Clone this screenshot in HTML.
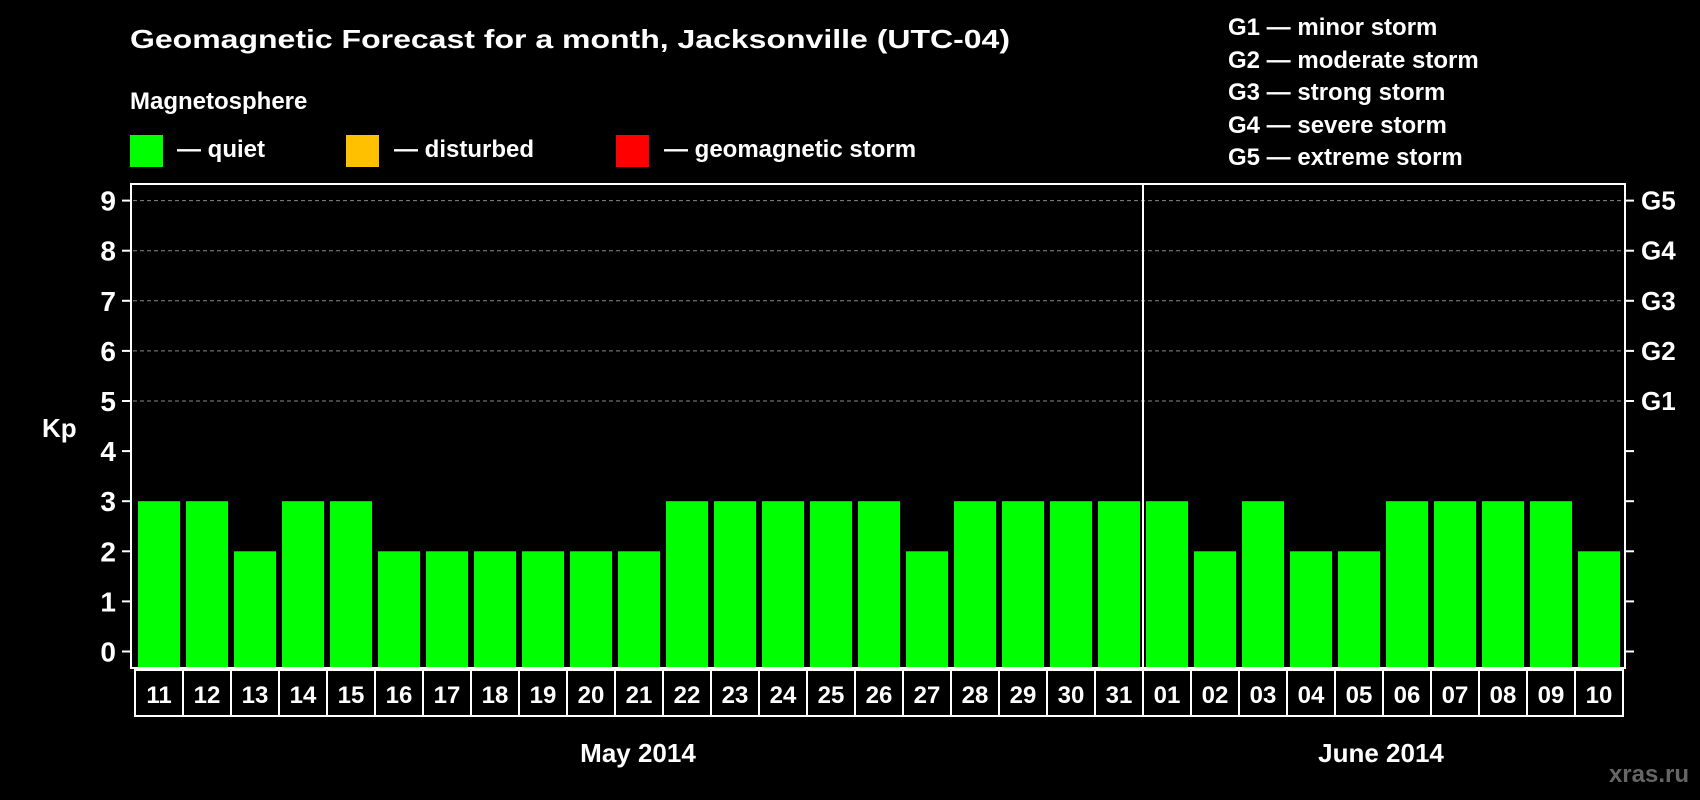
<!DOCTYPE html>
<html><head><meta charset="utf-8"><style>
html,body{margin:0;padding:0;background:#000;}
svg{display:block;font-family:"Liberation Sans",Arial,sans-serif;font-weight:bold;}
</style></head><body>
<svg id="chart" width="1700" height="800" viewBox="0 0 1700 800">
<rect x="0" y="0" width="1700" height="800" fill="#000"/>
<text x="130" y="48" fill="#fff" font-size="26" textLength="880" lengthAdjust="spacingAndGlyphs">Geomagnetic Forecast for a month, Jacksonville (UTC-04)</text>
<text x="130" y="109" fill="#fff" font-size="24">Magnetosphere</text>
<g>
<rect x="130" y="135" width="33" height="32" fill="#00ff00"/>
<text x="177" y="157" fill="#fff" font-size="24">— quiet</text></g>
<g>
<rect x="346" y="135" width="33" height="32" fill="#ffc000"/>
<text x="394" y="157" fill="#fff" font-size="24">— disturbed</text></g>
<g>
<rect x="616" y="135" width="33" height="32" fill="#ff0000"/>
<text x="664" y="157" fill="#fff" font-size="24">— geomagnetic storm</text></g>
<g fill="#fff" font-size="24">
<text x="1228" y="35">G1 — minor storm</text>
<text x="1228" y="68">G2 — moderate storm</text>
<text x="1228" y="100">G3 — strong storm</text>
<text x="1228" y="133">G4 — severe storm</text>
<text x="1228" y="165">G5 — extreme storm</text>
</g>
<text x="42" y="437" fill="#fff" font-size="26">Kp</text>
<g id="plot"></g>
<text x="638" y="762" fill="#fff" font-size="26" text-anchor="middle">May 2014</text>
<text x="1381" y="762" fill="#fff" font-size="26" text-anchor="middle">June 2014</text>
<text x="1689" y="782" fill="#666" font-size="24" text-anchor="end">xras.ru</text>
</svg>
<script>
const days = ["11","12","13","14","15","16","17","18","19","20","21","22","23","24","25","26","27","28","29","30","31","01","02","03","04","05","06","07","08","09","10"];
const kpValues = [3,3,2,3,3,2,2,2,2,2,2,3,3,3,3,3,2,3,3,3,3,3,2,3,2,2,3,3,3,3,2];
const yTicks = [0,1,2,3,4,5,6,7,8,9];
const gLabels = ["G1","G2","G3","G4","G5"];
const gLevels = [5,6,7,8,9];
const monthBreakIndex = 21;

const NS = "http://www.w3.org/2000/svg";
const plot = document.getElementById('plot');
const L = 131, R = 1625, T = 184, B = 668;
const X0 = 135, pitch = (1623 - 135) / days.length;
function y(v){ return 651.5 - v * 50.1; }
function xs(i){ return X0 + i * pitch; }
function mk(tag, attrs){ const e = document.createElementNS(NS, tag); for (const k in attrs) e.setAttribute(k, attrs[k]); plot.appendChild(e); return e; }

// grid lines
gLevels.forEach((g, i) => {
  const ln = mk('line', {x1: L+2, x2: R-2, y1: y(g), y2: y(g), stroke: '#888', 'stroke-width': 1, 'stroke-dasharray': '4,3'});
  
  
  const t = mk('text', {x: R + 16, y: y(g) + 9, fill: '#fff', 'font-size': 26});
  t.textContent = gLabels[i];
  
  
});
// y ticks
yTicks.forEach(v => {
  const tl = mk('line', {x1: 122, x2: L, y1: y(v), y2: y(v), stroke: '#fff', 'stroke-width': 2});
  
  
  const tr = mk('line', {x1: R, x2: R + 9, y1: y(v), y2: y(v), stroke: '#fff', 'stroke-width': 2});
  
  
  const t = mk('text', {x: 116, y: y(v) + 10, fill: '#fff', 'font-size': 28, 'text-anchor': 'end'});
  t.textContent = v;
  
  
});
// bars and day labels
days.forEach((d, i) => {
  const v = kpValues[i];
  const b = mk('rect', {x: xs(i) + 3, y: y(v), width: pitch - 6, height: B - y(v), fill: '#00ff00'});
  
  
  const c = mk('rect', {x: xs(i), y: B + 2, width: pitch, height: 46, fill: 'none', stroke: '#fff', 'stroke-width': 2});
  
  
  const t = mk('text', {x: xs(i) + pitch / 2, y: B + 35, fill: '#fff', 'font-size': 24, 'text-anchor': 'middle'});
  t.textContent = d;
  
  
});
// frame
const fr = mk('rect', {x: L, y: T, width: R - L, height: B - T, fill: 'none', stroke: '#fff', 'stroke-width': 2});


const dv = mk('line', {x1: xs(monthBreakIndex), x2: xs(monthBreakIndex), y1: T, y2: B, stroke: '#fff', 'stroke-width': 2});


</script>
</body></html>
